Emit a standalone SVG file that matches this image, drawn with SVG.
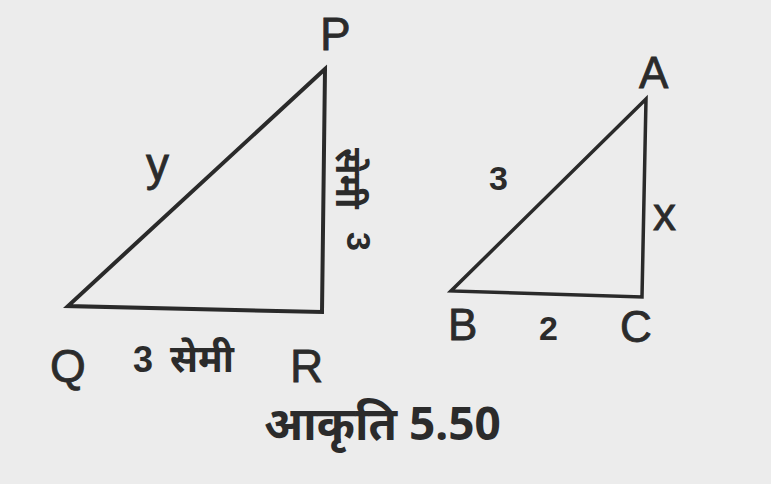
<svg xmlns="http://www.w3.org/2000/svg" width="771" height="484" viewBox="0 0 771 484">
<style>
.bg{fill:#ececec}
.edge{fill:none;stroke:#2a2a2a;stroke-linejoin:miter;stroke-linecap:square}
.lbl{font-family:"Liberation Sans","Noto Sans",Arial,sans-serif;fill:#2b2b2b;stroke:#2b2b2b;stroke-width:0.8}
.num{font-family:"Liberation Sans","Noto Sans",Arial,sans-serif;fill:#2b2b2b;font-weight:bold}
.dv{font-family:"Noto Sans","Noto Sans Devanagari","Liberation Sans",sans-serif;fill:#2b2b2b;font-weight:bold}
</style>
<rect class="bg" x="0" y="0" width="771" height="484"/>
<g id="triangle-PQR">
<polygon class="edge" points="325,69 68,306 322,312" stroke-width="4"/>
</g>
<g id="triangle-ABC">
<polygon class="edge" points="646,99 451,291 642,297" stroke-width="3.5"/>
</g>
<g id="labels-PQR">
<text class="lbl" x="320" y="50" font-size="46">P</text>
<text class="lbl" x="50" y="382" font-size="46">Q</text>
<text class="lbl" x="290" y="382" font-size="46">R</text>
<text class="lbl" x="146" y="180" font-size="46">y</text>
<text class="num" x="133" y="372" font-size="36">3</text>
<text class="dv" x="170" y="372" font-size="38">सेमी</text>
<text class="dv" font-size="36" transform="translate(336,148) rotate(90)">सेमी</text>
<text class="num" font-size="34" transform="translate(347,232) rotate(90)">3</text>
</g>
<g id="labels-ABC">
<text class="lbl" x="639" y="88" font-size="44">A</text>
<text class="lbl" x="448" y="340" font-size="44">B</text>
<text class="lbl" x="620" y="342" font-size="44">C</text>
<text class="lbl" x="653" y="230" font-size="46">x</text>
<text class="num" x="489" y="190" font-size="34">3</text>
<text class="num" x="539" y="340" font-size="34">2</text>
</g>
<g id="caption">
<text class="dv" x="264" y="440" font-size="46">आकृति 5.50</text>
</g>
</svg>
